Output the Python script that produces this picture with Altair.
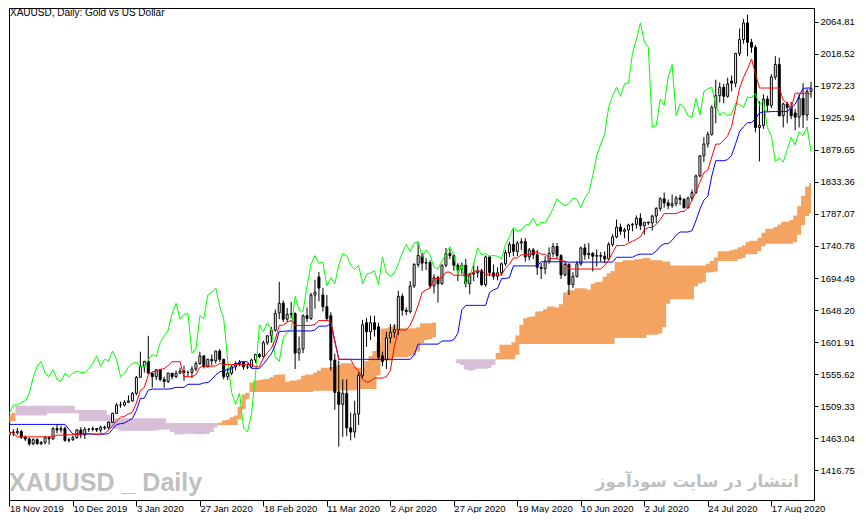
import altair as alt
import pandas as pd

# ---------------- data ----------------
tick_bars = [0, 16, 32, 48, 64, 80, 96, 112, 128, 144, 160, 176, 192]
tick_labels = ["18 Nov 2019", "10 Dec 2019", "3 Jan 2020", "27 Jan 2020", "18 Feb 2020",
               "11 Mar 2020", "2 Apr 2020", "27 Apr 2020", "19 May 2020", "10 Jun 2020",
               "2 Jul 2020", "24 Jul 2020", "17 Aug 2020"]
price_ticks = [1416.75, 1463.04, 1509.33, 1555.62, 1601.91, 1648.20, 1694.49, 1740.78,
               1787.07, 1833.36, 1879.65, 1925.94, 1972.23, 2018.52, 2064.81]

opens = [
    1468, 1472, 1471, 1473, 1464, 1462, 1455, 1461, 1455, 1457,
    1464, 1462, 1477, 1475, 1477, 1460, 1461, 1464, 1475, 1468,
    1476, 1476, 1477, 1475, 1479, 1478, 1486, 1499, 1511, 1511,
    1515, 1517, 1528, 1551, 1567, 1574, 1557, 1552, 1562, 1548,
    1545, 1557, 1552, 1557, 1560, 1558, 1558, 1563, 1571, 1582,
    1567, 1577, 1575, 1589, 1577, 1552, 1557, 1566, 1571, 1573,
    1566, 1566, 1576, 1584, 1581, 1601, 1611, 1619, 1644, 1658,
    1635, 1642, 1643, 1586, 1592, 1640, 1636, 1670, 1696, 1670,
    1653, 1640, 1576, 1530, 1512, 1528, 1478, 1472, 1498, 1554,
    1630, 1617, 1630, 1624, 1582, 1577, 1608, 1616, 1620, 1668,
    1648, 1646, 1683, 1714, 1727, 1716, 1717, 1683, 1695, 1686,
    1713, 1730, 1727, 1713, 1707, 1713, 1686, 1700, 1702, 1705,
    1685, 1725, 1702, 1697, 1702, 1715, 1731, 1743, 1733, 1745,
    1747, 1725, 1735, 1728, 1710, 1708, 1719, 1730, 1740, 1727,
    1699, 1714, 1685, 1697, 1715, 1738, 1728, 1730, 1726, 1727,
    1726, 1722, 1743, 1754, 1768, 1762, 1764, 1771, 1772, 1781,
    1770, 1775, 1774, 1784, 1795, 1809, 1803, 1799, 1802, 1810,
    1808, 1796, 1810, 1818, 1842, 1871, 1888, 1902, 1941, 1958,
    1970, 1957, 1979, 1976, 2019, 2039, 2063, 2035, 2028, 1912,
    1915, 1953, 1944, 1985, 2003, 1929, 1946, 1941, 1933, 1927,
    1954, 1930, 1964]

highs = [
    1474, 1476, 1478, 1475, 1467, 1464, 1463, 1463, 1459, 1466,
    1466, 1479, 1483, 1481, 1480, 1464, 1467, 1476, 1479, 1479,
    1478, 1480, 1478, 1481, 1481, 1487, 1500, 1514, 1516, 1518,
    1525, 1530, 1553, 1588, 1575, 1611, 1558, 1563, 1562, 1552,
    1558, 1557, 1561, 1565, 1568, 1561, 1567, 1574, 1588, 1583,
    1578, 1584, 1589, 1592, 1578, 1564, 1569, 1574, 1576, 1574,
    1571, 1578, 1585, 1586, 1604, 1612, 1624, 1649, 1689, 1662,
    1651, 1660, 1645, 1610, 1642, 1652, 1673, 1692, 1703, 1680,
    1670, 1645, 1585, 1575, 1548, 1548, 1500, 1517, 1558, 1634,
    1637, 1640, 1640, 1630, 1588, 1617, 1628, 1628, 1676, 1672,
    1652, 1690, 1716, 1747, 1731, 1723, 1720, 1700, 1698, 1714,
    1738, 1737, 1729, 1716, 1717, 1722, 1702, 1716, 1712, 1708,
    1727, 1726, 1714, 1710, 1717, 1735, 1747, 1765, 1748, 1752,
    1752, 1738, 1738, 1735, 1716, 1726, 1739, 1745, 1745, 1729,
    1718, 1716, 1703, 1719, 1740, 1744, 1745, 1732, 1736, 1732,
    1733, 1746, 1758, 1779, 1773, 1767, 1773, 1774, 1785, 1788,
    1775, 1776, 1786, 1797, 1811, 1818, 1808, 1815, 1813, 1815,
    1810, 1812, 1822, 1844, 1872, 1898, 1906, 1944, 1981, 1977,
    1975, 1984, 1987, 2020, 2055, 2069, 2075, 2040, 2031, 1950,
    1960, 1958, 1989, 2015, 2013, 1948, 1949, 1949, 1939, 1960,
    1976, 1968, 1978]

lows = [
    1464, 1466, 1468, 1462, 1459, 1452, 1453, 1454, 1453, 1454,
    1454, 1461, 1470, 1471, 1458, 1457, 1459, 1462, 1463, 1462,
    1472, 1473, 1472, 1471, 1475, 1476, 1485, 1498, 1507, 1509,
    1514, 1516, 1525, 1550, 1558, 1556, 1536, 1547, 1545, 1536,
    1543, 1548, 1550, 1556, 1546, 1553, 1550, 1560, 1569, 1564,
    1565, 1568, 1571, 1573, 1548, 1547, 1554, 1561, 1567, 1562,
    1563, 1564, 1572, 1579, 1578, 1598, 1601, 1617, 1635, 1631,
    1631, 1636, 1563, 1575, 1586, 1631, 1634, 1650, 1661, 1646,
    1633, 1561, 1504, 1451, 1465, 1466, 1460, 1464, 1482, 1550,
    1595, 1605, 1610, 1576, 1567, 1563, 1600, 1608, 1612, 1640,
    1641, 1643, 1680, 1710, 1705, 1706, 1680, 1672, 1659, 1685,
    1710, 1722, 1705, 1690, 1700, 1681, 1671, 1690, 1695, 1683,
    1682, 1697, 1692, 1691, 1698, 1712, 1725, 1726, 1726, 1735,
    1718, 1720, 1722, 1699, 1693, 1700, 1715, 1725, 1722, 1693,
    1697, 1670, 1680, 1695, 1712, 1721, 1722, 1704, 1711, 1718,
    1716, 1720, 1740, 1752, 1757, 1752, 1747, 1762, 1766, 1764,
    1757, 1771, 1763, 1774, 1791, 1796, 1794, 1796, 1798, 1800,
    1795, 1795, 1806, 1816, 1840, 1862, 1883, 1900, 1918, 1948,
    1947, 1955, 1964, 1970, 2015, 2033, 2015, 2020, 1905, 1863,
    1910, 1935, 1940, 1981, 1928, 1912, 1918, 1924, 1908, 1912,
    1911, 1922, 1955]

closes = [
    1472, 1471, 1473, 1464, 1462, 1455, 1461, 1455, 1457, 1464,
    1462, 1477, 1475, 1477, 1460, 1461, 1464, 1475, 1468, 1476,
    1476, 1477, 1475, 1479, 1478, 1486, 1499, 1511, 1511, 1515,
    1517, 1528, 1551, 1567, 1574, 1557, 1552, 1562, 1548, 1545,
    1557, 1552, 1557, 1560, 1558, 1558, 1563, 1571, 1582, 1567,
    1577, 1575, 1589, 1577, 1552, 1557, 1566, 1571, 1573, 1566,
    1566, 1576, 1584, 1581, 1601, 1611, 1619, 1643, 1658, 1635,
    1642, 1643, 1586, 1592, 1640, 1636, 1670, 1674, 1680, 1653,
    1636, 1576, 1529, 1512, 1528, 1478, 1472, 1498, 1554, 1627,
    1617, 1630, 1620, 1580, 1574, 1608, 1616, 1620, 1668, 1648,
    1646, 1683, 1714, 1727, 1716, 1717, 1683, 1695, 1686, 1713,
    1730, 1727, 1713, 1707, 1713, 1686, 1700, 1702, 1705, 1685,
    1725, 1702, 1697, 1702, 1715, 1731, 1743, 1733, 1745, 1747,
    1725, 1735, 1728, 1710, 1708, 1719, 1730, 1740, 1727, 1699,
    1714, 1685, 1697, 1715, 1738, 1728, 1730, 1726, 1727, 1726,
    1722, 1743, 1754, 1768, 1762, 1764, 1771, 1772, 1781, 1770,
    1775, 1774, 1784, 1795, 1809, 1803, 1799, 1802, 1810, 1808,
    1796, 1810, 1818, 1842, 1871, 1888, 1902, 1941, 1958, 1970,
    1957, 1975, 1976, 2019, 2039, 2063, 2035, 2028, 1912, 1915,
    1953, 1944, 1985, 2003, 1929, 1946, 1941, 1929, 1927, 1954,
    1930, 1964, 1968]

# closes of the 26 sessions after the last visible candle (only seen in the lagging span)
closes_after = [1970, 1944, 1930, 1934, 1929, 1932, 1947, 1945, 1941, 1956,
                1955, 1961, 1944, 1951, 1912, 1900, 1863, 1868, 1862, 1880,
                1898, 1887, 1906, 1900, 1913, 1877]

tenkan = [
    1472, 1470, 1465, 1465, 1465, 1465, 1465, 1465, 1465, 1465,
    1465, 1465.5, 1467.5, 1467.5, 1468, 1468, 1468, 1468.5, 1468.5, 1470,
    1470, 1469, 1468.5, 1469, 1470, 1474.5, 1481, 1488, 1493.5, 1494.5,
    1498, 1500.5, 1514, 1532, 1536.5, 1554.5, 1559, 1560, 1562.5, 1563.5,
    1568, 1573.5, 1573.5, 1573.5, 1552, 1552, 1552, 1555, 1565.5, 1567,
    1567, 1567, 1567.5, 1571, 1570, 1569.5, 1569.5, 1569.5, 1569.5, 1569.5,
    1569.5, 1569.5, 1566, 1566.5, 1579, 1586.5, 1593, 1605.5, 1626, 1626.5,
    1630.5, 1633.5, 1626, 1626, 1626, 1626, 1626, 1627.5, 1633, 1633,
    1633, 1632, 1603.5, 1577, 1577, 1577, 1577, 1565.5, 1560.5, 1548,
    1544, 1545.5, 1550, 1550, 1550, 1552, 1561, 1595, 1619.5, 1619.5,
    1619.5, 1626.5, 1639.5, 1655, 1673.5, 1677.5, 1679.5, 1693.5, 1694, 1695,
    1703, 1703, 1698.5, 1698.5, 1698.5, 1698.5, 1698.5, 1704.5, 1704.5, 1704,
    1700, 1699, 1699, 1699, 1699, 1708.5, 1714.5, 1723.5, 1723.5, 1728,
    1728, 1728, 1731.5, 1732, 1729, 1729, 1722.5, 1722.5, 1722.5, 1719,
    1719, 1707.5, 1707.5, 1707.5, 1707.5, 1707.5, 1707.5, 1707.5, 1707.5, 1707.5,
    1712.5, 1720.5, 1731, 1741.5, 1741.5, 1741.5, 1745, 1747.5, 1750.5, 1754,
    1764, 1767.5, 1767.5, 1772, 1779, 1787.5, 1787.5, 1787.5, 1787.5, 1790.5,
    1790.5, 1796, 1806.5, 1819, 1833, 1846.5, 1850.5, 1869.5, 1888, 1888,
    1893.5, 1900, 1913.5, 1941, 1969, 1984.5, 1996.5, 2011, 1990, 1969,
    1969, 1969, 1969, 1969, 1969, 1951.5, 1947, 1939, 1961.5, 1961.5,
    1961.5, 1961.5, 1960.5]

kijun = [
    1483, 1483, 1483, 1483, 1483, 1483, 1483, 1483, 1483, 1483,
    1483, 1483, 1483, 1483, 1483, 1476, 1469, 1469, 1469, 1469,
    1469, 1469, 1469, 1469, 1469, 1469.5, 1476, 1483, 1484, 1485,
    1488.5, 1491.5, 1503, 1520.5, 1521, 1532.5, 1534, 1534, 1534, 1534,
    1534, 1535, 1536.5, 1536.5, 1536.5, 1541, 1541, 1541, 1541, 1543,
    1543.5, 1548, 1554.5, 1559, 1560, 1562.5, 1563.5, 1568, 1573.5, 1573.5,
    1573.5, 1564, 1564, 1564, 1570, 1577.5, 1585, 1597.5, 1617.5, 1617.5,
    1618, 1618, 1618, 1618, 1618, 1618, 1618, 1619.5, 1625, 1625,
    1625, 1628.5, 1603.5, 1577, 1577, 1577, 1577, 1577, 1577, 1577,
    1577, 1577, 1577, 1577, 1577, 1577, 1577, 1577, 1577, 1577,
    1577, 1577, 1583.5, 1599, 1599, 1599, 1599, 1599, 1599, 1603.5,
    1603.5, 1603.5, 1605.5, 1614.5, 1648.5, 1655, 1655, 1655, 1655, 1655,
    1655, 1673.5, 1677.5, 1679.5, 1693.5, 1694, 1695, 1712, 1712, 1712,
    1712, 1712, 1712, 1712, 1718, 1718, 1718, 1718, 1718, 1718,
    1718, 1717.5, 1717.5, 1717.5, 1717.5, 1717.5, 1717.5, 1717.5, 1717.5, 1717.5,
    1717.5, 1717.5, 1717.5, 1724.5, 1724.5, 1724.5, 1724.5, 1724.5, 1727.5, 1729,
    1729, 1729, 1729, 1733.5, 1740.5, 1744, 1744, 1749, 1756.5, 1761,
    1761, 1761, 1763, 1777.5, 1794, 1807, 1813, 1842, 1864, 1864,
    1864, 1865.5, 1872, 1888.5, 1906, 1913, 1919, 1919, 1924.5, 1933,
    1934.5, 1934.5, 1935, 1935, 1935, 1935, 1935, 1940.5, 1945.5, 1957.5,
    1968.5, 1969, 1969]

span_a = [
    1497, 1500, 1496, 1496, 1496, 1496, 1496, 1496, 1496, 1496,
    1499, 1499, 1499, 1499, 1499, 1499, 1499, 1499, 1488, 1488,
    1488, 1488, 1488, 1488, 1488, 1478, 1477.5, 1476.5, 1474, 1474,
    1474, 1474, 1474, 1474, 1474, 1474, 1474, 1474.25, 1475.25, 1475.25,
    1475.5, 1472, 1468.5, 1468.75, 1468.75, 1469.5, 1469.5, 1469, 1468.75, 1469,
    1469.5, 1472, 1478.5, 1485.5, 1488.75, 1489.75, 1493.25, 1496, 1508.5, 1526.25,
    1528.75, 1543.5, 1546.5, 1547, 1548.25, 1548.75, 1551, 1554.25, 1555, 1555,
    1544.25, 1546.5, 1546.5, 1548, 1553.25, 1555, 1555.25, 1557.5, 1561, 1565,
    1565, 1566, 1566.5, 1568.75, 1571.5, 1571.5, 1571.5, 1566.75, 1565, 1565.25,
    1574.5, 1582, 1589, 1601.5, 1621.75, 1622, 1624.25, 1625.75, 1622, 1622,
    1622, 1622, 1622, 1623.5, 1629, 1629, 1629, 1630.25, 1603.5, 1577,
    1577, 1577, 1577, 1571.25, 1568.75, 1562.5, 1560.5, 1561.25, 1563.5, 1563.5,
    1563.5, 1564.5, 1569, 1586, 1598.25, 1598.25, 1598.25, 1601.75, 1611.5, 1627,
    1636.25, 1638.25, 1639.25, 1646.25, 1646.5, 1649.25, 1653.25, 1653.25, 1652, 1656.5,
    1673.5, 1676.75, 1676.75, 1679.75, 1679.75, 1679.5, 1677.5, 1686.25, 1688.25, 1689.25,
    1696.25, 1701.25, 1704.75, 1717.75, 1717.75, 1720, 1720, 1720, 1721.75, 1722,
    1723.5, 1723.5, 1720.25, 1720.25, 1720.25, 1718.5, 1718.5, 1712.5, 1712.5, 1712.5,
    1712.5, 1712.5, 1712.5, 1712.5, 1712.5, 1712.5, 1715, 1719, 1724.25, 1733,
    1733, 1733, 1734.75, 1736, 1739, 1741.5, 1746.5, 1748.25, 1748.25, 1752.75,
    1759.75, 1765.75, 1765.75, 1768.25, 1772, 1775.75, 1775.75, 1778.5, 1784.75, 1798.25,
    1813.5, 1826.75, 1831.75]

span_b = [
    1486, 1488, 1510, 1510, 1510, 1510, 1510, 1510, 1510, 1510,
    1510, 1510, 1510, 1510, 1510, 1510, 1510, 1504, 1504, 1504,
    1504, 1504, 1504, 1504, 1504, 1497, 1492, 1492, 1492, 1492,
    1492, 1492, 1492, 1492, 1492, 1492, 1492, 1492, 1492, 1492,
    1485, 1485, 1485, 1485, 1485, 1485, 1485, 1485, 1485, 1485,
    1485, 1485, 1485, 1482, 1482, 1482, 1482, 1482, 1490, 1505,
    1520, 1530, 1530, 1530, 1530, 1530, 1530, 1530, 1530, 1530,
    1530, 1530, 1530, 1530, 1530, 1530, 1530, 1531.5, 1531.5, 1531.5,
    1531.5, 1531.5, 1531.5, 1532, 1532, 1532, 1532.5, 1532.5, 1534, 1534,
    1534, 1534, 1534, 1554, 1575.5, 1575.5, 1575.5, 1580, 1580, 1580,
    1580, 1582, 1582.5, 1588.5, 1600.5, 1605, 1606, 1608.5, 1603.5, 1577,
    1577, 1577, 1577, 1577, 1577, 1577, 1577, 1577, 1577, 1577,
    1577, 1577, 1577, 1577, 1577, 1577, 1577, 1577, 1583.5, 1599,
    1599, 1599, 1599, 1599, 1599, 1599, 1599, 1599, 1599, 1599,
    1599, 1599, 1599, 1599, 1599, 1599, 1599, 1599, 1599, 1599,
    1599, 1599, 1599, 1608, 1608, 1608, 1608, 1608, 1608, 1608,
    1608, 1612.5, 1612.5, 1612.5, 1614.5, 1623.5, 1657.5, 1664, 1664, 1664,
    1664, 1664, 1664, 1682.5, 1686.5, 1688.5, 1702.5, 1703, 1704, 1719,
    1719, 1719, 1719, 1719, 1722, 1723.5, 1729, 1729, 1729, 1733.5,
    1740.5, 1744, 1744, 1744, 1744, 1744, 1744, 1744, 1746, 1757,
    1771, 1784, 1788]

# ---------------- table ----------------
n = len(closes)
lagging = (closes + closes_after)[26:26 + n]
df = pd.DataFrame({
    "i": list(range(n)), "open": opens, "high": highs, "low": lows, "close": closes,
    "tenkan": tenkan, "kijun": kijun, "span_a": span_a, "span_b": span_b,
    "chikou": lagging,
})
df["a_lo"] = [b if a >= b else a for a, b in zip(span_a, span_b)]
df["b_lo"] = [a if b > a else b for a, b in zip(span_a, span_b)]

# ---------------- scales / axes ----------------
FONT = "Liberation Sans"
xs = alt.Scale(domain=[-0.1, 202.75], nice=False, zero=False)
ys = alt.Scale(domain=[1373.8, 2084.6], nice=False, zero=False)
label_js = "[" + ",".join("'" + s + "'" for s in tick_labels) + "]"
xaxis = alt.Axis(values=tick_bars, labelExpr=label_js + "[round(datum.value/16)]",
                 title=None, grid=False, tickSize=6, tickColor="black",
                 domainColor="black", labelColor="black", labelFont=FONT,
                 labelFontSize=9.5, labelAlign="left", labelBaseline="top",
                 labelPadding=-3, labelFlush=False, labelOverlap=False,
                 labelBound=False)
yaxis = alt.Axis(values=price_ticks, format=".2f", orient="right", title=None,
                 grid=False, tickSize=4, tickColor="black", domainColor="black",
                 labelColor="black", labelFont=FONT, labelFontSize=9.5,
                 labelPadding=2, labelOverlap=False, labelFlush=False, labelBound=False)


def X(f):
    return alt.X(f, type="quantitative", scale=xs, axis=xaxis)


def Y(f):
    return alt.Y(f, type="quantitative", scale=ys, axis=yaxis)


base = alt.Chart(df)

cloud_up = base.mark_area(interpolate="step", color="#F4A460", opacity=1, clip=True).encode(
    x=X("i"), y=Y("a_lo"), y2="span_a:Q")
cloud_dn = base.mark_area(interpolate="step", color="#D8BFD8", opacity=1, clip=True).encode(
    x=X("i"), y=Y("b_lo"), y2="span_b:Q")

wicks = base.mark_rule(color="black", strokeWidth=1, clip=True).encode(
    x=X("i"), y=Y("low"), y2="high:Q")
bodies = base.transform_calculate(
    x0="datum.i - 0.25", x1="datum.i + 0.25"
).mark_rect(stroke="black", strokeWidth=1, clip=True).encode(
    x=X("x0"), x2="x1:Q", y=Y("open"), y2="close:Q",
    fill=alt.condition("datum.close >= datum.open", alt.value("white"), alt.value("black")))

chikou_l = base.mark_line(color="#00FF00", strokeWidth=1, clip=True).encode(x=X("i"), y=Y("chikou"))
kijun_l = base.mark_line(color="#0000FF", strokeWidth=1, clip=True).encode(x=X("i"), y=Y("kijun"))
tenkan_l = base.mark_line(color="#FF0000", strokeWidth=1, clip=True).encode(x=X("i"), y=Y("tenkan"))

one = alt.Chart(pd.DataFrame({"k": [0]}))
title_t = one.mark_text(text="XAUUSD, Daily:  Gold vs US Dollar", font=FONT, fontSize=10,
                        color="black", align="left", baseline="top").encode(
    x=alt.value(1), y=alt.value(0))
wm_left = one.mark_text(text="XAUUSD _ Daily", font=FONT,
                        fontSize=25, fontWeight="bold", color="#C0C0C0",
                        align="left", baseline="alphabetic").encode(
    x=alt.value(0), y=alt.value(483))
wm_right = one.mark_text(text="انتشار در سایت سودآموز", font="DejaVu Sans", fontSize=16.5,
                         fontWeight="bold", color="#C0C0C0",
                         align="right", baseline="alphabetic").encode(
    x=alt.value(790), y=alt.value(479))

chart = alt.layer(
    cloud_up, cloud_dn, wicks, bodies, chikou_l, kijun_l, tenkan_l,
    title_t, wm_left, wm_right
).properties(
    width=805, height=492,
    padding={"left": 0, "top": 0, "right": 0, "bottom": 0},
    background="white",
).configure_view(stroke="black", strokeWidth=1)

chart.save("out.html", embed_options={"renderer": "svg", "actions": False})
